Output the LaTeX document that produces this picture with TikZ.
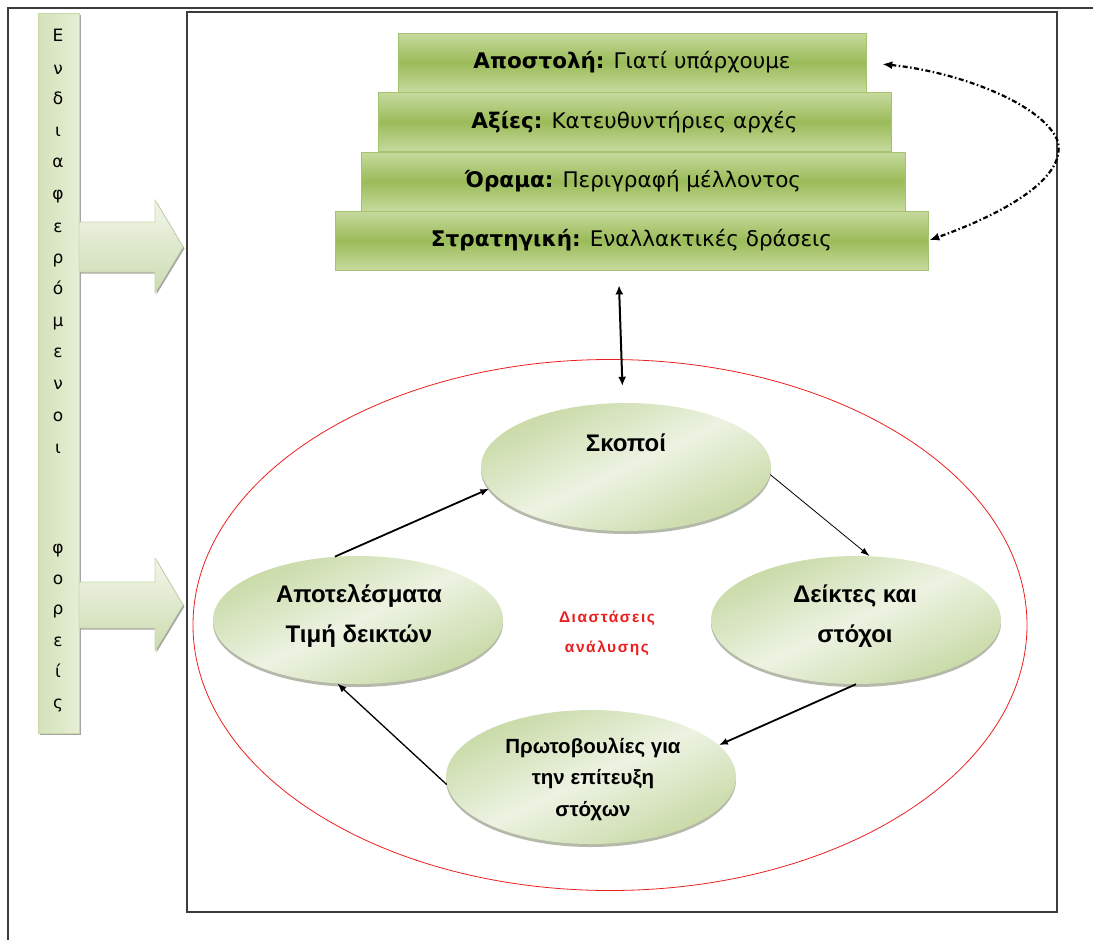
\documentclass[tikz,border=0pt]{standalone}
\usepackage{fontspec}
\setmainfont{DejaVu Sans}
\newfontfamily\stagefont{Liberation Sans}
\newfontfamily\notefont[LetterSpace=10]{Liberation Sans}
\usetikzlibrary{shapes.geometric,arrows.meta,shadows}

\definecolor{frameline}{RGB}{60,60,60}
\definecolor{tierlight}{RGB}{198,218,158}
\definecolor{tiergreen}{RGB}{155,187,89}
\definecolor{tieredge}{RGB}{165,195,110}
\definecolor{tiershadow}{RGB}{95,115,55}
\definecolor{stagelight}{RGB}{236,243,226}
\definecolor{stageouter}{RGB}{200,217,165}
\definecolor{stageshadow}{RGB}{120,128,100}
\definecolor{barleft}{RGB}{212,226,185}
\definecolor{barright}{RGB}{230,238,214}
\definecolor{baredge}{RGB}{200,216,170}
\definecolor{arrowtop}{RGB}{242,246,234}
\definecolor{arrowbottom}{RGB}{204,219,176}
\definecolor{ringred}{RGB}{235,30,30}

\begin{document}
\begin{tikzpicture}[x=1pt,y=-1pt,
  tier/.style={draw=tieredge, line width=0.8pt, top color=tierlight,
    bottom color=tierlight, middle color=tiergreen, minimum height=59pt,
    inner sep=0pt, font=\fontsize{21.5}{25}\selectfont,
    drop shadow={shadow xshift=1.3pt, shadow yshift=-1.3pt, opacity=0.75, fill=tiershadow}},
  stage/.style={ellipse, minimum width=290pt, minimum height=128pt, inner sep=0pt,
    top color=stageouter, bottom color=stageouter, middle color=stagelight, shading angle=25,
    drop shadow={shadow xshift=0pt, shadow yshift=-3pt, opacity=0.55, fill=stageshadow}},
  stagetext/.style={align=center, font=\stagefont\bfseries\fontsize{24}{40}\selectfont},
  letter/.style={anchor=base, font=\fontsize{17}{17}\selectfont},
  blockarrow/.style={draw=baredge, line width=0.6pt, top color=arrowtop, bottom color=arrowbottom,
    drop shadow={shadow xshift=1.5pt, shadow yshift=-1.5pt, opacity=0.35, fill=black}},
  flow/.style={-{Latex[length=9pt,width=7pt]}, line width=1.8pt},
  thinflow/.style={-{Latex[length=9pt,width=6pt]}, line width=0.8pt},
  loop/.style={{Latex[length=10pt,width=8pt]}-{Latex[length=10pt,width=8pt]},
    line width=2.2pt, dash pattern=on 5pt off 2.5pt on 1.5pt off 2.5pt}
]
\useasboundingbox (0,0) rectangle (1093,940);

% outer frame and the panel
\draw[frameline, line width=1.8pt] (8,940) -- (8,8) -- (1093,8);
\node[draw=frameline, line width=1.6pt, anchor=north west, inner sep=0pt,
  minimum width=870pt, minimum height=900pt] (panel) at (186,11) {};

% stakeholder bar with its letters
\node[draw=baredge, line width=0.6pt, left color=barleft, right color=barright,
  anchor=north west, inner sep=0pt, minimum width=41pt, minimum height=720pt,
  drop shadow={shadow xshift=2pt, shadow yshift=-2pt, opacity=0.35, fill=black}] (bar) at (38,13) {};
\foreach \ch/\y [count=\i] in {Ε/35, ν/68, δ/98, ι/130, α/161, φ/193, ε/226, ρ/257,
    ό/288, μ/320, ε/351, ν/383, ο/415, ι/447, φ/547, ο/578, ρ/608, ε/640, ί/671, ς/702}
  \node[letter] (letter\i) at (58,\y+6) {\ch};

% block arrows from the bar into the panel
\path[blockarrow] (79,222) -- (155,222) -- (155,200) -- (183,247) -- (155,293)
  -- (155,272) -- (79,272) -- cycle;
\path[blockarrow] (79,582) -- (155,582) -- (155,558) -- (183,605) -- (155,651)
  -- (155,628) -- (79,628) -- cycle;

% strategy pyramid
\node[tier, minimum width=468pt] (mission) at (632,62.5) {\textbf{Αποστολή:} Γιατί υπάρχουμε};
\node[tier, minimum width=513pt] (values) at (634.5,122) {\textbf{Αξίες:} Κατευθυντήριες αρχές};
\node[tier, minimum width=544pt] (vision) at (633,181.5) {\textbf{Όραμα:} Περιγραφή μέλλοντος};
\node[tier, minimum width=593pt] (strategy) at (631.5,240.5) {\textbf{Στρατηγική:} Εναλλακτικές δράσεις};

% feedback loop between mission and strategy
\coordinate (turn) at (1058,142);
\draw[loop, shorten <=16pt, shorten >=1pt] (mission.east) .. controls (960,72) and (1045,105) .. (turn)
  .. controls (1066,180) and (1000,215) .. (strategy.east);

% analysis cycle
\node[draw=ringred, line width=0.8pt, ellipse, minimum width=834pt, minimum height=531pt,
  inner sep=0pt] (ring) at (610,625) {};

\node[stage] (goals) at (626,467) {};
\node[stage] (results) at (358,620) {};
\node[stage] (targets) at (856,620) {};
\node[stage, minimum height=134pt] (actions) at (591,777) {};

\node[stagetext] (goals-txt) at (626,443) {Σκοποί};
\node[stagetext] (results-txt) at (359,616) {Αποτελέσματα\\Τιμή δεικτών};
\node[stagetext] (targets-txt) at (855,616) {Δείκτες και\\στόχοι};
\node[stagetext, font=\stagefont\bfseries\fontsize{20.5}{31.5}\selectfont] (actions-txt) at (593,779)
  {Πρωτοβουλίες για\\την επίτευξη\\στόχων};
\node[align=center, text=ringred, font=\notefont\bfseries\fontsize{15.5}{30}\selectfont] (dims) at (607,633)
  {Διαστάσεις\\ανάλυσης};

\draw[{Latex[length=9pt,width=8pt]}-{Latex[length=9pt,width=8pt]}, line width=2pt,
  shorten <=15pt, shorten >=17pt] ([xshift=-13pt]strategy.south) -- ([xshift=-3pt]goals.north);

\draw[flow] (results.110) -- (goals.189);
\draw[thinflow] (goals.-3) -- (targets.78);
\draw[flow] (targets.270) -- (actions.14);
\draw[flow, line width=1.3pt] (actions.183) -- (results.252);
\end{tikzpicture}
\end{document}
